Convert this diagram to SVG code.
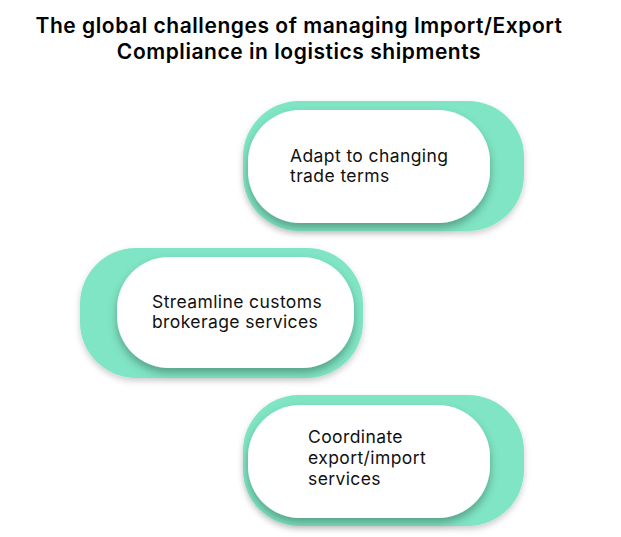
<svg xmlns="http://www.w3.org/2000/svg" width="621" height="537" viewBox="0 0 621 537">
<style>
.title{font-family:Inter,"Liberation Sans",sans-serif;font-weight:600;font-size:21px;letter-spacing:0.55px;fill:#000;text-anchor:middle}
.lbl{font-family:Inter,"Liberation Sans",sans-serif;font-weight:400;font-size:17.5px;letter-spacing:0.4px;fill:#111}
.back{fill:#7fe5c4}
.front{fill:#ffffff;filter:url(#sh)}
</style>
<defs>
<filter id="sh" x="-20%" y="-20%" width="140%" height="150%">
<feDropShadow dx="0" dy="5" stdDeviation="4" flood-color="#000" flood-opacity="0.3"/>
</filter>
<filter id="sh2" x="-20%" y="-20%" width="140%" height="150%">
<feDropShadow dx="0" dy="3" stdDeviation="3" flood-color="#000" flood-opacity="0.2"/>
</filter>
</defs>
<rect width="621" height="537" fill="#fff"/>
<g id="title">
<text class="title" x="299" y="33">The global challenges of managing Import/Export</text>
<text class="title" x="299" y="59">Compliance in logistics shipments</text>
</g>
<g id="connectors"></g>
<g id="node1">
<rect class="back" x="243" y="101" width="281" height="130" rx="56" filter="url(#sh2)"/>
<rect class="front" x="248" y="110" width="242" height="113" rx="52"/>
<text class="lbl" x="290" y="162">Adapt to changing</text>
<text class="lbl" x="290" y="182">trade terms</text>
</g>
<g id="node2">
<rect class="back" x="80" y="248" width="283" height="130" rx="56" filter="url(#sh2)"/>
<rect class="front" x="117" y="257" width="237" height="111" rx="52"/>
<text class="lbl" x="152" y="308">Streamline customs</text>
<text class="lbl" x="152" y="328">brokerage services</text>
</g>
<g id="node3">
<rect class="back" x="243" y="395" width="281" height="131" rx="56" filter="url(#sh2)"/>
<rect class="front" x="248" y="405" width="242" height="113" rx="52"/>
<text class="lbl" x="308" y="443">Coordinate</text>
<text class="lbl" x="308" y="464">export/import</text>
<text class="lbl" x="308" y="485">services</text>
</g>
</svg>
